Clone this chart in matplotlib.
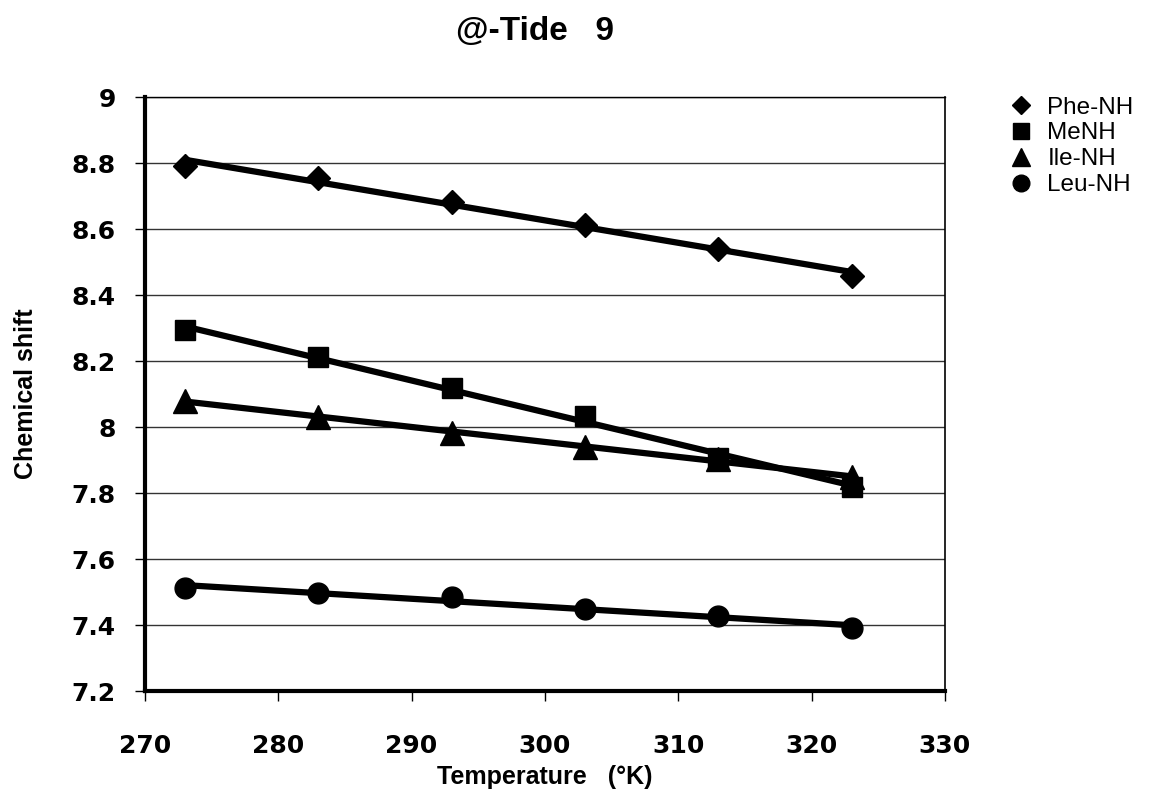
import numpy as np
import matplotlib
matplotlib.use("Agg")
import matplotlib.pyplot as plt
from matplotlib.lines import Line2D

temperature = [273, 283, 293, 303, 313, 323]
phe_nh = [8.792, 8.754, 8.683, 8.612, 8.541, 8.458]
me_nh = [8.293, 8.213, 8.120, 8.033, 7.906, 7.820]
ile_nh = [8.080, 8.031, 7.983, 7.940, 7.903, 7.848]
leu_nh = [7.512, 7.498, 7.486, 7.448, 7.427, 7.392]

series_names = ["Phe-NH", "MeNH", "Ile-NH", "Leu-NH"]
series_values = [phe_nh, me_nh, ile_nh, leu_nh]
markers = ["D", "s", "^", "o"]
marker_sizes = [12, 15, 17, 15]

x_ticks = [270, 280, 290, 300, 310, 320, 330]
y_ticks = [7.2, 7.4, 7.6, 7.8, 8.0, 8.2, 8.4, 8.6, 8.8, 9.0]
y_tick_labels = ["7.2", "7.4", "7.6", "7.8", "8", "8.2", "8.4", "8.6", "8.8", "9"]

plt.rcParams['font.family'] = ['Liberation Sans', 'DejaVu Sans']

fig = plt.figure(figsize=(11.68, 7.89), dpi=100)
ax = fig.add_axes([0.124, 0.124, 0.685, 0.753])

x = np.array(temperature, dtype=float)
handles = []
for name, vals, m, ms in zip(series_names, series_values, markers, marker_sizes):
    y = np.array(vals)
    ax.plot(x, y, linestyle="none", marker=m, markersize=ms, color="black", zorder=3)
    coef = np.polyfit(x, y, 1)
    xf = np.array([x.min(), x.max()])
    ax.plot(xf, np.polyval(coef, xf), color="black", linewidth=4.5, zorder=4,
            solid_capstyle="butt")
    handles.append(Line2D([], [], linestyle="none", marker=m, color="black",
                          markersize=ms * 0.8, label=name))

ax.set_xlim(270, 330)
ax.set_ylim(7.2, 9.0)
ax.set_xticks(x_ticks)
ax.set_xticklabels([str(t) for t in x_ticks])
ax.set_yticks(y_ticks)
ax.set_yticklabels(y_tick_labels)
ax.yaxis.grid(True, color="#333333", linewidth=1.0)
ax.set_axisbelow(True)

for lab in ax.get_xticklabels() + ax.get_yticklabels():
    lab.set_fontsize(18)
    lab.set_fontweight("bold")
    lab.set_family(['DejaVu Sans'])
ax.tick_params(axis="both", direction="out", length=7, width=1, color="black")
ax.tick_params(axis="y", pad=14)
ax.tick_params(axis="x", pad=24)

ax.spines["left"].set_linewidth(3)
ax.spines["bottom"].set_linewidth(3)
ax.spines["top"].set_linewidth(1)
ax.spines["right"].set_linewidth(1.2)

ax.set_xlabel("Temperature   (\u00b0K)", fontsize=18, fontweight="bold", labelpad=5)
ax.set_ylabel("Chemical shift", fontsize=18, fontweight="bold", labelpad=24)
fig.text(0.458, 0.960, "@-Tide   9", ha="center", va="center", fontsize=24,
         fontweight="bold")

leg = fig.legend(handles=handles, loc="upper left", bbox_to_anchor=(0.853, 0.89),
                 frameon=False, fontsize=17.5, handletextpad=0.5, labelspacing=0.16,
                 handlelength=1.2, borderaxespad=0)

fig.savefig("out.png", dpi=100)
